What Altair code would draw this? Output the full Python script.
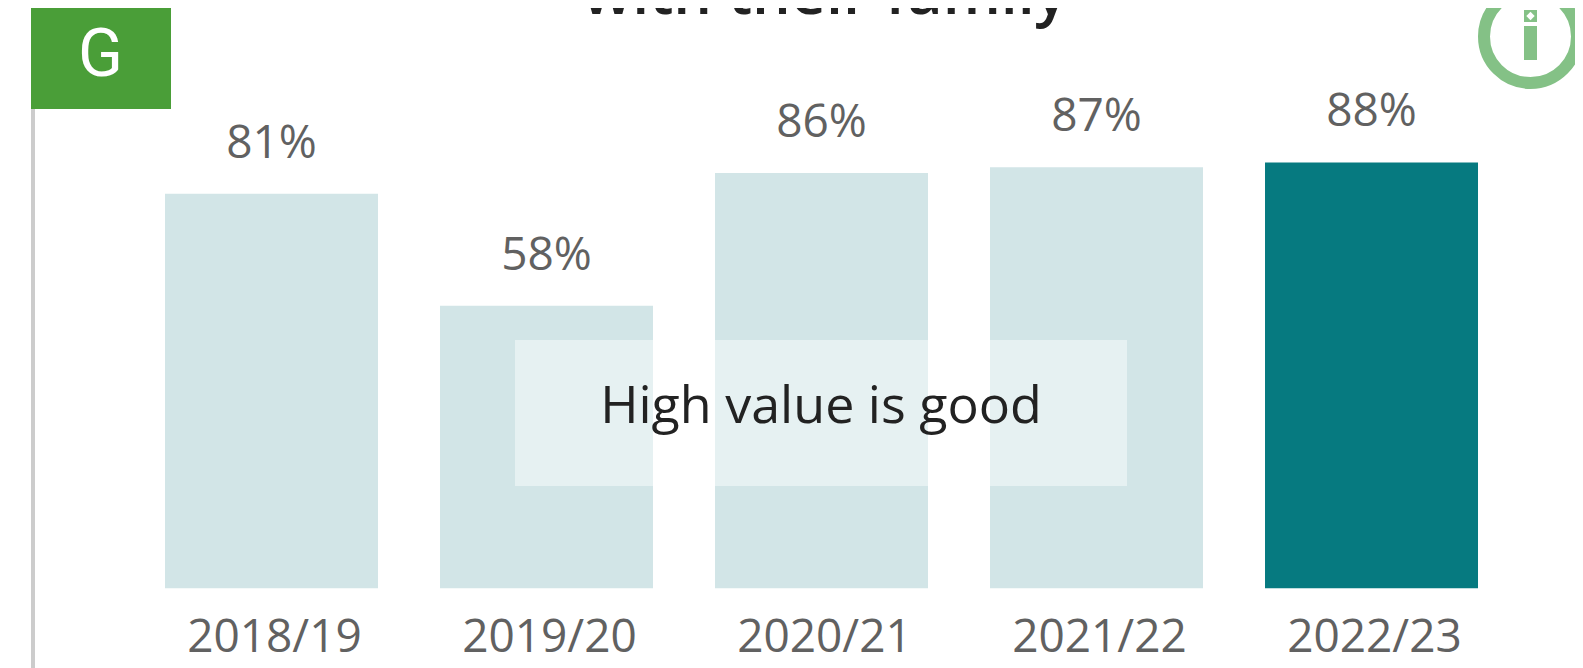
import altair as alt
import pandas as pd

years = ["2018/19", "2019/20", "2020/21", "2021/22", "2022/23"]
values = [81.5, 58.4, 85.8, 87.0, 88.0]
labels = ["81%", "58%", "86%", "87%", "88%"]
status = ["past", "past", "past", "past", "latest"]

df = pd.DataFrame({"year": years, "value": values, "label": labels, "status": status})
one = pd.DataFrame({"a": [0]})
FONT = "Open Sans"
X0, Y0 = 134, 104.3

x = alt.X("year:N", sort=years, title=None,
          scale=alt.Scale(paddingInner=0.2255, paddingOuter=0.1127),
          axis=alt.Axis(domain=False, ticks=False, grid=False, labelAngle=0, labelFont=FONT,
                        labelFontSize=46, labelColor="#616161", labelBaseline="alphabetic",
                        labelPadding=63, labelOffset=3))
y = alt.Y("value:Q", title=None, scale=alt.Scale(domain=[0, 100]), axis=None)

bars = alt.Chart(df).mark_bar().encode(
    x=x, y=y,
    color=alt.Color("status:N", legend=None,
                    scale=alt.Scale(domain=["past", "latest"], range=["#D2E5E7", "#067A80"])))
vals = alt.Chart(df).mark_text(font=FONT, fontSize=46, color="#616161", baseline="alphabetic", dy=-36).encode(
    x=alt.X("year:N", sort=years), y=y, text="label:N")

def R(x0, x1, y0, y1, color, **kw):
    return alt.Chart(one).mark_rect(color=color, **kw).encode(
        x=alt.value(x0 - X0), x2=alt.value(x1 - X0), y=alt.value(y0 - Y0), y2=alt.value(y1 - Y0))

def T(px, py, s, size, color, font=FONT, **kw):
    return alt.Chart(one).mark_text(text=s, font=font, fontSize=size, color=color,
                                    baseline="alphabetic", align="center", **kw).encode(
        x=alt.value(px - X0), y=alt.value(py - Y0))

overlay = R(515, 1127, 340, 486, "#FFFFFF", opacity=0.45)
note = T(821, 423, "High value is good", 52, "#222222")
title = T(825, 14, "with their family", 61, "#222222", fontWeight=600)
side = R(31, 35, 109, 668, "#CCCCCC")
flag = R(31, 171, 0, 109, "#4A9E38")
g = T(100.5, 76, "G", 66, "#FFFFFF", font="Roboto")
ring = alt.Chart(one).mark_point(shape="circle", size=8649, filled=False, stroke="#84C186",
                                 strokeWidth=12, opacity=1).encode(
    x=alt.value(1530.5 - X0), y=alt.value(36.5 - Y0))
stem = R(1524, 1537, 26, 60, "#84C186")
dot = R(1524, 1537, 10, 22, "#84C186")
hole = alt.Chart(one).mark_point(shape="diamond", size=70, filled=True, color="#FFFFFF", opacity=1).encode(
    x=alt.value(1530.5 - X0), y=alt.value(16 - Y0))

chart = alt.layer(side, bars, overlay, vals, note, title, flag, g, ring, stem, dot, hole).properties(
    width=1375, height=484,
    autosize=alt.AutoSizeParams(type="none"),
    padding={"left": 126, "top": 96.3, "right": 66, "bottom": 79.7},
    background="#FFFFFF",
).configure_view(stroke=None)

chart.save("out.html", embed_options={"renderer": "svg", "actions": False})
